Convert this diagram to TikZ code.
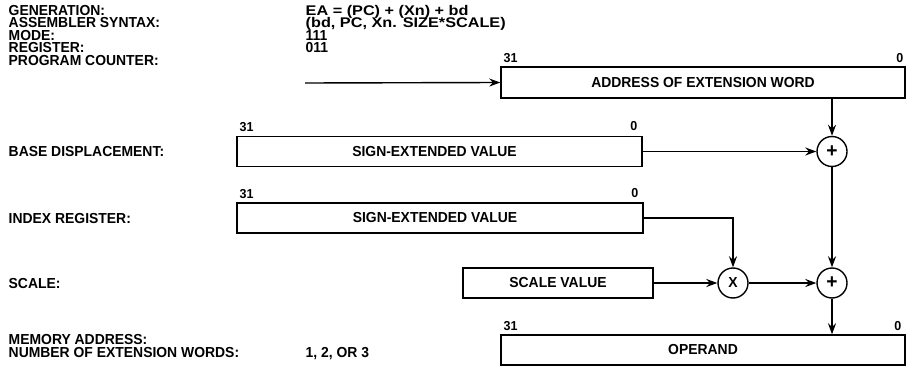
\documentclass[tikz,border=0pt]{standalone}
\usepackage{fontspec}
\setmainfont{Liberation Sans}[FakeStretch=0.96]
\newfontfamily\widefont{Liberation Sans}[FakeStretch=1.16]
\usetikzlibrary{arrows.meta}
\begin{document}
\begin{tikzpicture}[x=1pt,y=-1pt,
  font=\fontsize{14.5}{12}\selectfont\bfseries,
  line width=1.4pt,
  lab/.style={anchor=base west, inner sep=0pt},
  wlab/.style={anchor=base west, inner sep=0pt, font=\widefont\fontsize{14}{12}\selectfont\bfseries},
  bitl/.style={anchor=base west, inner sep=0pt, font=\fontsize{13}{12}\selectfont\bfseries},
  bitr/.style={anchor=base east, inner sep=0pt, font=\fontsize{13}{12}\selectfont\bfseries},
  reg/.style={draw, rectangle, inner sep=0pt, minimum height=30pt},
  opc/.style={draw, circle, inner sep=0pt, minimum size=30pt},
  arr/.style={-{Stealth[length=11pt,width=8pt]}}]
\useasboundingbox (0,0) rectangle (909,366);

% header labels
\node[lab] (l1) at (8,15.5) {GENERATION:};
\node[lab] (l2) at (8,28) {ASSEMBLER SYNTAX:};
\node[lab] (l3) at (8,40.5) {MODE:};
\node[lab] (l4) at (8,53) {REGISTER:};
\node[lab] (l5) at (8,65.5) {PROGRAM COUNTER:};
\node[wlab] (v1) at (305,15.5) {EA = (PC) + (Xn) + bd};
\node[wlab] (v2) at (305,28) {(bd, PC, Xn. SIZE*SCALE)};
\node[lab] (v3) at (305,40.5) {111};
\node[lab] (v4) at (305,53) {011};

\node[lab] (l6) at (8,157) {BASE DISPLACEMENT:};
\node[lab] (l7) at (8,223) {INDEX REGISTER:};
\node[lab] (l8) at (8,288) {SCALE:};
\node[lab] (l9) at (8,344.5) {MEMORY ADDRESS:};
\node[lab] (l10) at (8,357) {NUMBER OF EXTENSION WORDS:};
\node[lab] (v5) at (305,357) {1, 2, OR 3};

% registers
\node[reg, minimum width=404pt, minimum height=31pt] (addr) at (703,82.5) {ADDRESS OF EXTENSION WORD};
\node[reg, minimum width=405pt] (base) at (439.5,151.5) {\hspace*{-10pt}SIGN-EXTENDED VALUE};
\node[reg, minimum width=406pt] (index) at (440,218) {\hspace*{-10pt}SIGN-EXTENDED VALUE};
\node[reg, minimum width=190pt] (scale) at (558,283) {SCALE VALUE};
\node[reg, minimum width=404pt] (oper) at (703,350) {OPERAND};

% bit numbers
\node[bitl] (a31) at (503,63) {31};
\node[bitr] (a0) at (904,63) {0};
\node[bitl] (b31) at (239,132) {31};
\node[bitr] (b0) at (638,131) {0};
\node[bitl] (i31) at (239,198) {31};
\node[bitr] (i0) at (639,197) {0};
\node[bitl] (o31) at (503,330) {31};
\node[bitr] (o0) at (902,330) {0};

% operators
\node[opc] (p1) at (832,151.5) {\fontsize{20}{20}\selectfont +};
\node[opc] (mx) at (733,283) {X};
\node[opc] (p2) at (832,283) {\fontsize{20}{20}\selectfont +};

% connectors
\coordinate (pc) at (305,83);
\draw[arr] (pc) -- (addr.west);
\draw[arr] (addr.south -| p1) -- (p1.north);
\draw[arr] (base.east) -- (p1.west);
\draw[arr] (index.east) -| (mx.north);
\draw[arr] (scale.east) -- (mx.west);
\draw[arr] (mx.east) -- (p2.west);
\draw[arr] (p1.south) -- (p2.north);
\draw[arr] (p2.south) -- (p2.south |- oper.north);
\end{tikzpicture}
\end{document}
